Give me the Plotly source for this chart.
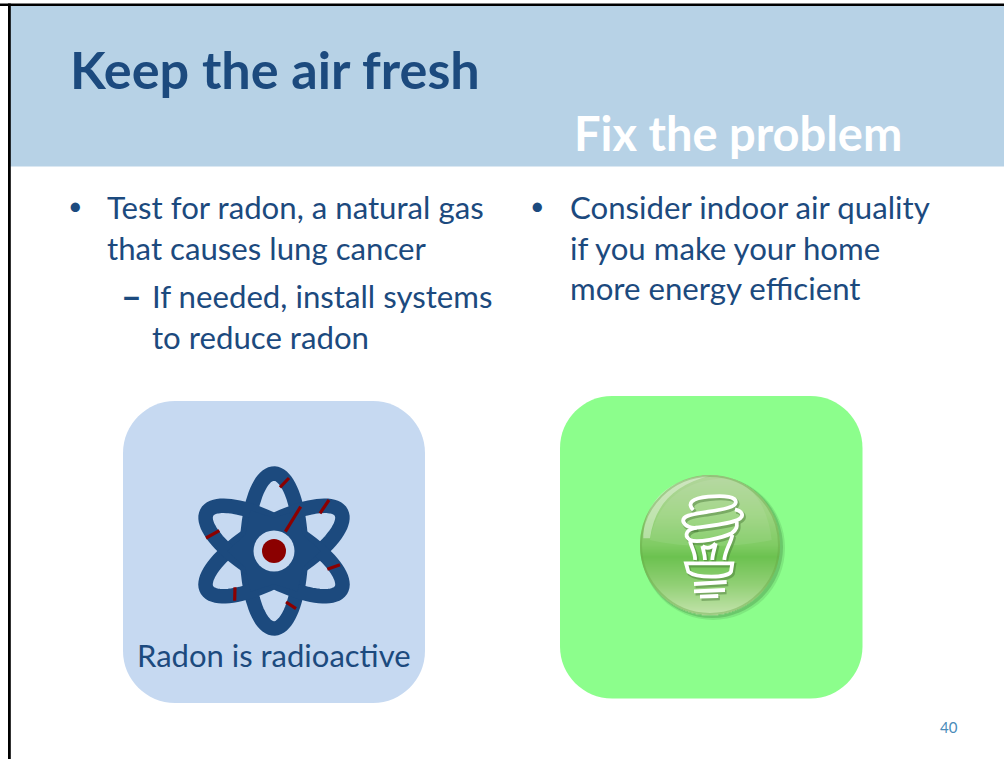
import numpy as np
import plotly.graph_objects as go

W, H = 1004, 759
BLUE = "#1c4a7e"
RED = "#8b0000"
BAND = "#b7d2e6"
PANEL_BLUE = "#c6d9f1"
PANEL_GREEN = "#8cfe8c"

title = "Keep the air fresh"
subtitle = "Fix the problem"
left_lines = ["Test for radon, a natural gas", "that causes lung cancer"]
left_sub_lines = ["If needed, install systems", "to reduce radon"]
right_lines = ["Consider indoor air quality", "if you make your home", "more energy efficient"]
caption = "Radon is radioactive"
page = "40"

shapes, annos = [], []


def rect(x0, y0, x1, y1, fill):
    shapes.append(dict(type="rect", x0=x0, y0=y0, x1=x1, y1=y1, fillcolor=fill, line_width=0))


def rrect(x0, y0, x1, y1, r, fill):
    c = r * 0.45
    p = (f"M {x0+r} {y0} L {x1-r} {y0} C {x1-c} {y0} {x1} {y0+c} {x1} {y0+r} "
         f"L {x1} {y1-r} C {x1} {y1-c} {x1-c} {y1} {x1-r} {y1} "
         f"L {x0+r} {y1} C {x0+c} {y1} {x0} {y1-c} {x0} {y1-r} "
         f"L {x0} {y0+r} C {x0} {y0+c} {x0+c} {y0} {x0+r} {y0} Z")
    shapes.append(dict(type="path", path=p, fillcolor=fill, line_width=0))


def circle(cx, cy, r, fill=None, line=None, lw=0, op=1.0):
    shapes.append(dict(type="circle", x0=cx-r, y0=cy-r, x1=cx+r, y1=cy+r,
                       fillcolor=fill or "rgba(0,0,0,0)", line=dict(color=line or "rgba(0,0,0,0)", width=lw), opacity=op))


def text(x, y, s, size, color=BLUE, bold=False, anchor="left"):
    annos.append(dict(x=x, y=y, text=f"<b>{s}</b>" if bold else s, showarrow=False, xanchor=anchor, yanchor="middle",
                      xref="x", yref="y", borderpad=0,
                      font=dict(family="Lato, Carlito, Open Sans", size=size, color=color)))


# Frame and band
rect(10, 6, W, 166.5, BAND)
rect(0, 3.5, W, 6, "#000000")
rect(8, 3.5, 10.8, H, "#000000")

# Panels
rrect(123, 401, 425, 703, 52, PANEL_BLUE)
rrect(560, 396, 862.5, 698.5, 52, PANEL_GREEN)

# Atom
AX, AY = 274, 551
t = np.linspace(0, 2*np.pi, 90)
for ang in (0, 60, 120):
    a = np.radians(ang)
    ex, ey = 27, 77.5
    xs = AX + ex*np.cos(t)*np.cos(a) - ey*np.sin(t)*np.sin(a)
    ys = AY + ex*np.cos(t)*np.sin(a) + ey*np.sin(t)*np.cos(a)
    p = "M " + " L ".join(f"{x:.1f} {y:.1f}" for x, y in zip(xs, ys)) + " Z"
    shapes.append(dict(type="path", path=p, fillcolor="rgba(0,0,0,0)", line=dict(color=BLUE, width=14.5)))
# star-shaped hub that closes the gaps next to the ring crossings
star_a = np.radians(np.arange(0, 360, 30))
star_r = np.array([47, 33] * 6)
p = "M " + " L ".join(f"{AX+r*np.cos(q):.1f} {AY+r*np.sin(q):.1f}" for q, r in zip(star_a, star_r)) + " Z"
shapes.append(dict(type="path", path=p, fillcolor=BLUE, line_width=0))
# red marks: (x0, y0, x1, y1) crop pixels from the atom zoom
marks = [(300, 112, 327, 84), (420, 190, 447, 150), (362, 170, 316, 245), (442, 358, 480, 344),
         (318, 456, 348, 476), (165, 412, 164, 452), (78, 264, 118, 242)]
for x0, y0, x1, y1 in marks:
    shapes.append(dict(type="line", x0=180+x0/3, y0=450+y0/3, x1=180+x1/3, y1=450+y1/3,
                       line=dict(color=RED, width=3.2)))
circle(AX, AY, 20.5, PANEL_BLUE)
circle(AX, AY, 12, RED)

# Button
BX, BY, BR = 710, 545, 70
circle(BX+3, BY+3, BR+2, "#4d9a4d", op=0.22)
circle(BX+2, BY+2, BR+1, "#3f7f3f", op=0.3)
stops_y = [-70, -30, 0, 12, 40, 70]
stops_rgb = np.array([[178, 214, 156], [156, 212, 128], [128, 204, 100], [108, 194, 80], [146, 208, 118], [196, 228, 172]])
for dy in range(-70, 70):
    ym = dy + 0.5
    half = np.sqrt(max(BR**2 - ym**2, 0))
    c = [int(np.interp(ym, stops_y, stops_rgb[:, k])) for k in range(3)]
    rect(BX-half, BY+dy, BX+half, BY+dy+1.3, f"rgb({c[0]},{c[1]},{c[2]})")


def conv(p, dx=0, dy=0):
    nums, res = [], []
    toks = p.replace(",", " ")
    for seg in toks.replace("M", " M ").replace("C", " C ").replace("L", " L ").replace("Z", " Z ").split():
        if seg in "MCLZ":
            res.append(seg)
        else:
            nums.append(float(seg))
            if len(nums) == 2:
                res.append(f"{625+nums[0]/3+dx:.1f} {460+nums[1]/3+dy:.1f}")
                nums = []
    return " ".join(res)


# gloss crescent and soft right rim
shapes.append(dict(type="path", path=conv("M55,235 C55,130 130,50 255,47 C150,75 90,130 75,235 Z"),
                   fillcolor="white", line_width=0, opacity=0.38))
shapes.append(dict(type="path", path=conv("M75,240 C95,130 170,60 300,55 C390,70 430,150 440,240 C330,265 180,265 75,240 Z"),
                   fillcolor="white", line_width=0, opacity=0.08))
circle(BX, BY, BR-1, None, "#66a846", 2, 0.4)

# Bulb outline, crop pixels from the button zoom
coils = [
    "M205,150 C185,130 200,115 250,110 C300,105 335,110 332,128 C330,140 300,148 250,155 C210,162 170,165 175,185 "
    "C180,200 200,205 215,203 C260,197 340,190 350,170 C355,158 345,152 330,148",
    "M215,203 C185,208 175,225 195,240 C215,250 290,235 320,220 C340,205 335,195 335,185",
    "M195,243 C200,265 212,280 210,300",
    "M322,225 C318,250 300,270 298,300",
    "M232,258 C236,275 240,285 240,300 M272,250 C268,270 262,285 262,300 M232,258 C245,268 258,265 272,250",
    "M183,310 L322,310 L318,335 C308,355 215,355 190,335 Z",
    "M207,372 L305,366 M207,394 L300,390 M225,410 L280,408",
]
for p in coils:
    shapes.append(dict(type="path", path=conv(p, 1.5, 2), line=dict(color="#3c6a2c", width=4.6), opacity=0.4))
for p in coils:
    shapes.append(dict(type="path", path=conv(p), line=dict(color="white", width=3.8)))

# Text
text(68.5, 68.5, title, 52.2, bold=True)
text(572.5, 132.5, subtitle, 47, color="white", bold=True)
text(67, 204.5, "•", 25)
text(529, 204.5, "•", 25)
for y, s in zip((206.5, 247.5), left_lines):
    text(105.5, y, s, 31.2)
text(120, 295, "–", 36, bold=True)
for y, s in zip((295.5, 336.5), left_sub_lines):
    text(150.5, y, s, 31.2)
for y, s in zip((206.5, 247.5, 287.5), right_lines):
    text(568.5, y, s, 31.2)
text(136, 654.5, caption, 31)
text(939, 727, page, 15, color="#4a8cba")

fig = go.Figure()
fig.update_layout(width=W, height=H, margin=dict(l=0, r=0, t=0, b=0), paper_bgcolor="white", plot_bgcolor="white",
                  shapes=shapes, annotations=annos, showlegend=False,
                  xaxis=dict(range=[0, W], visible=False, fixedrange=True),
                  yaxis=dict(range=[H, 0], visible=False, fixedrange=True))
fig.write_html("out.html", config={"displayModeBar": False},
               post_script="document.body.style.margin='0';document.body.style.overflow='hidden';")
